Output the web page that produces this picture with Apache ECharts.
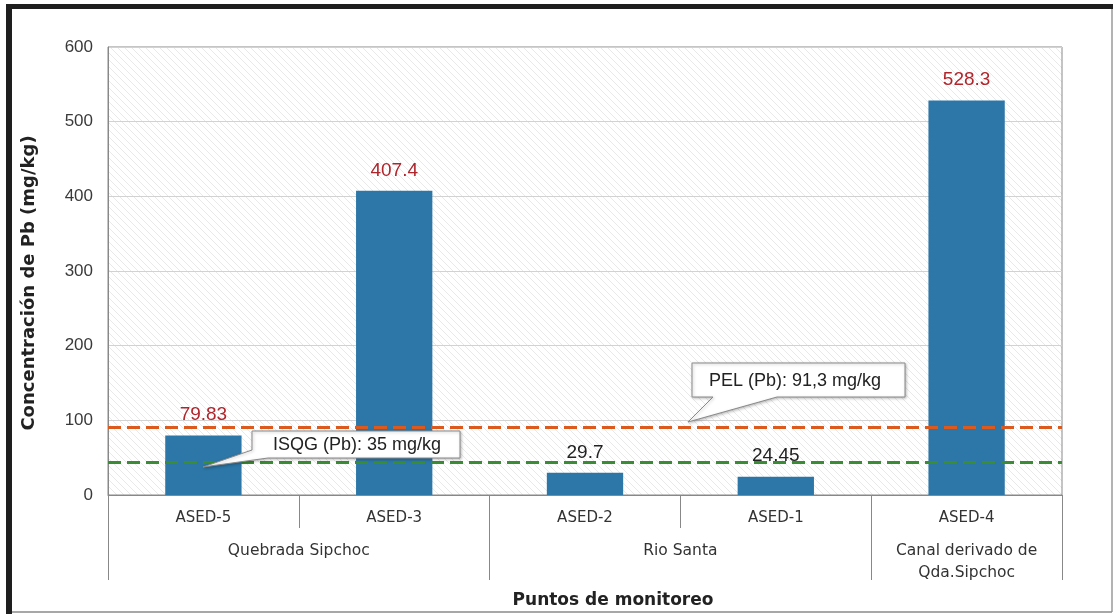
<!DOCTYPE html>
<html>
<head>
<meta charset="utf-8">
<script src="https://cdn.jsdelivr.net/npm/echarts@6/dist/echarts.min.js"></script>
<style>
  html, body { margin: 0; padding: 0; background: #fff; }
  #chart { width: 1114px; height: 614px; }
</style>
</head>
<body>
<div id="chart"></div>
<script>
// datos
var puntos = ['ASED-5', 'ASED-3', 'ASED-2', 'ASED-1', 'ASED-4'];
var valores = [79.83, 407.4, 29.7, 24.45, 528.3];
var grupos = ['Quebrada Sipchoc', 'Rio Santa', 'Canal derivado de\nQda.Sipchoc'];
var grupoTam = [2, 2, 1];
var yTicks = [0, 100, 200, 300, 400, 500, 600];
// lineas guia (posicion, texto de la etiqueta)
var pel = 91.3;
var isqgLinea = 44;
var isqg = 35;

var chart = echarts.init(document.getElementById('chart'));

// patron rayado del fondo
var pat = document.createElement('canvas');
pat.width = 7; pat.height = 7;
var ctx = pat.getContext('2d');
ctx.strokeStyle = 'rgba(175,175,175,0.28)';
ctx.lineWidth = 1;
ctx.beginPath();
ctx.moveTo(-1, -1); ctx.lineTo(8, 8);
ctx.moveTo(-1, 6); ctx.lineTo(1, 8);
ctx.moveTo(6, -1); ctx.lineTo(8, 1);
ctx.stroke();

// posiciones de grupos sobre el eje 0..n
var bordes = [0], centros = [], acc = 0;
grupoTam.forEach(function (t) {
  centros.push(acc + t / 2);
  acc += t;
  bordes.push(acc);
});
var separadores = puntos.map(function (p, i) { return i; }).concat([puntos.length]);

var option = {
  animation: false,
  grid: {
    left: 108, right: 52, top: 47, bottom: 117,
    show: true,
    backgroundColor: { image: pat, repeat: 'repeat' },
    borderColor: '#8a8a8a',
    borderWidth: 1
  },
  xAxis: [{
    type: 'category',
    data: puntos,
    axisLine: { lineStyle: { color: '#888' } },
    axisTick: { show: false },
    axisLabel: { color: '#333', fontSize: 15, margin: 16, fontFamily: 'DejaVu Sans' }
  }, {
    type: 'value',
    min: 0,
    max: puntos.length,
    position: 'bottom',
    axisLine: { show: false },
    splitLine: { show: false },
    axisTick: {
      show: true, length: 85, customValues: bordes,
      lineStyle: { color: '#888' }
    },
    axisLabel: {
      customValues: centros,
      margin: 45,
      verticalAlign: 'top',
      color: '#333', fontSize: 15.5, lineHeight: 22, fontFamily: 'DejaVu Sans',
      formatter: function (v) {
        var i = centros.indexOf(v);
        return i >= 0 ? grupos[i] : '';
      }
    },
    name: 'Puntos de monitoreo',
    nameLocation: 'middle',
    nameGap: 97,
    nameTextStyle: {
      color: '#222', fontSize: 17, fontWeight: 'bold', fontFamily: 'DejaVu Sans',
      padding: [0, 0, 0, 56]
    }
  }, {
    type: 'value',
    min: 0,
    max: puntos.length,
    position: 'bottom',
    axisLine: { show: false },
    splitLine: { show: false },
    axisTick: {
      show: true, length: 33, customValues: separadores,
      lineStyle: { color: '#888' }
    },
    axisLabel: { show: false }
  }],
  yAxis: {
    type: 'value',
    min: yTicks[0],
    max: yTicks[yTicks.length - 1],
    interval: 100,
    axisLine: { show: true, lineStyle: { color: '#888' } },
    axisTick: { show: false },
    axisLabel: { color: '#3a3a3a', fontSize: 17, margin: 15, fontFamily: 'Liberation Sans' },
    splitLine: { lineStyle: { color: '#d2d2d2', width: 1 } },
    name: 'Concentración de Pb (mg/kg)',
    nameLocation: 'middle',
    nameGap: 70,
    nameTextStyle: {
      color: '#222', fontSize: 18, fontWeight: 'bold', fontFamily: 'DejaVu Sans',
      padding: [0, 24, 0, 0]
    }
  },
  series: [{
    type: 'bar',
    barWidth: '40%',
    itemStyle: { color: '#2c77a7' },
    label: {
      show: true,
      position: 'top',
      distance: 11,
      fontSize: 19,
      fontFamily: 'Liberation Sans'
    },
    markLine: {
      silent: true,
      symbol: 'none',
      label: { show: false },
      data: [
        { yAxis: pel, lineStyle: { color: '#dc5a1e', type: [13, 6], width: 3 } },
        { yAxis: isqgLinea, lineStyle: { color: '#3a8d34', type: [13, 6], width: 3 } }
      ]
    }
  }],
  graphic: [
    // marco
    { type: 'rect', shape: { x: 6, y: 4, width: 1107, height: 5 }, style: { fill: '#1e1e1e' } },
    { type: 'rect', shape: { x: 6, y: 4, width: 6, height: 610 }, style: { fill: '#1e1e1e' } },
    { type: 'line', shape: { x1: 1112, y1: 9, x2: 1112, y2: 612 }, style: { stroke: '#9a9a9a', lineWidth: 1.5 } },
    { type: 'line', shape: { x1: 12, y1: 612, x2: 1112, y2: 612 }, style: { stroke: '#8a8a8a', lineWidth: 1.5 } },
    // llamada ISQG
    {
      type: 'polygon', z: 100,
      shape: { points: [[252, 431], [460, 431], [460, 458], [268, 458], [203, 467], [252, 450]] },
      style: { fill: '#fff', stroke: '#8a8a8a', lineWidth: 1, shadowBlur: 3, shadowColor: 'rgba(0,0,0,0.25)', shadowOffsetX: 1, shadowOffsetY: 1 }
    },
    {
      type: 'text', z: 101, x: 357, y: 445,
      style: { text: 'ISQG (Pb): ' + isqg + ' mg/kg', fontSize: 18, fontFamily: 'Liberation Sans', fill: '#222', align: 'center', verticalAlign: 'middle' }
    },
    // llamada PEL
    {
      type: 'polygon', z: 100,
      shape: { points: [[692, 363], [905, 363], [905, 397], [777, 397], [688, 422], [713, 397], [692, 397]] },
      style: { fill: '#fff', stroke: '#8a8a8a', lineWidth: 1, shadowBlur: 3, shadowColor: 'rgba(0,0,0,0.25)', shadowOffsetX: 1, shadowOffsetY: 1 }
    },
    {
      type: 'text', z: 101, x: 795, y: 381,
      style: { text: 'PEL (Pb): ' + String(pel).replace('.', ',') + ' mg/kg', fontSize: 18, fontFamily: 'Liberation Sans', fill: '#222', align: 'center', verticalAlign: 'middle' }
    }
  ]
};

// color de etiqueta: rojo si supera ISQG
option.series[0].data = valores.map(function (v) {
  return { value: v, label: { color: v > isqg ? '#b0252b' : '#222' } };
});

chart.setOption(option);
</script>
</body>
</html>
